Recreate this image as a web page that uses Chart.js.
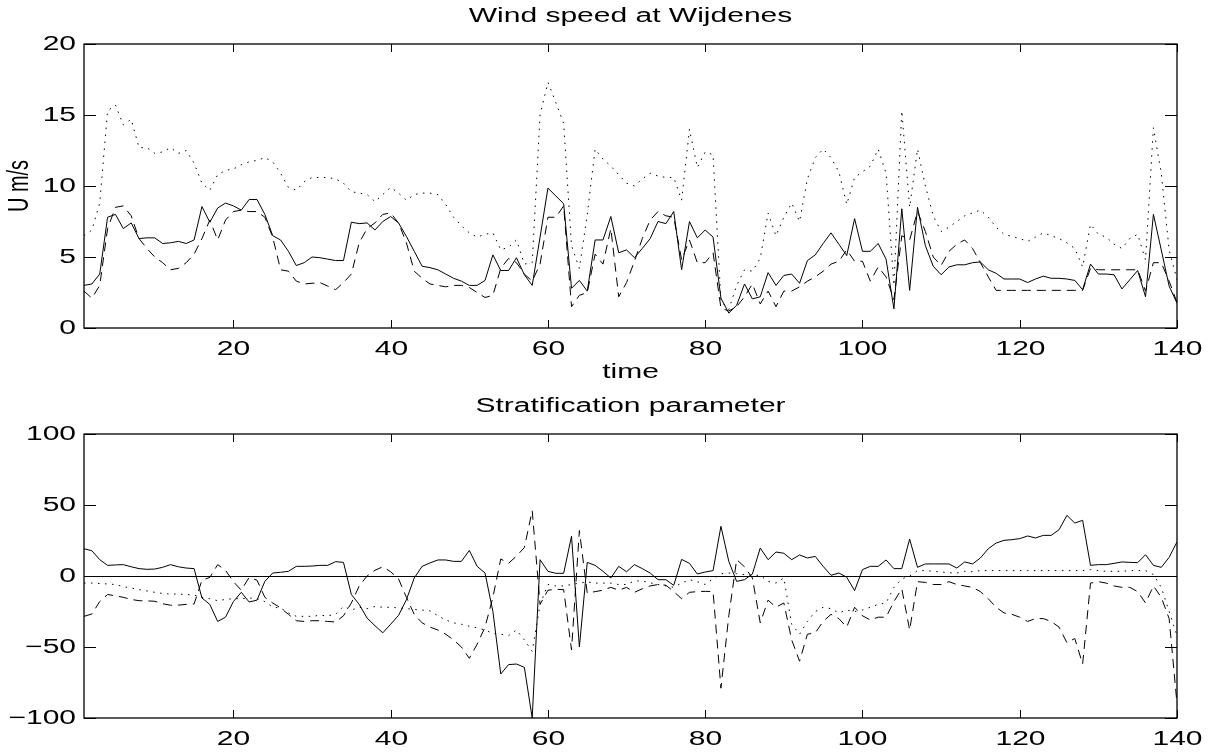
<!DOCTYPE html>
<html>
<head>
<meta charset="utf-8">
<script src="https://cdn.jsdelivr.net/npm/chart.js@4.4.1/dist/chart.umd.min.js"></script>
<style>
  html, body { margin: 0; padding: 0; background: #fff; }
  .panel { position: absolute; left: 0; width: 1212px; }
  #top { top: 0; height: 392px; }
  #bottom { top: 392px; height: 362px; }
</style>
</head>
<body>
<div class="panel" id="top"><canvas id="windChart" width="1212" height="392"></canvas></div>
<div class="panel" id="bottom"><canvas id="stratChart" width="1212" height="362"></canvas></div>
<script>
// --- DATA ---
const time = Array.from({ length: 140 }, (_, i) => i + 1);

const windSolid = [
  3.0, 3.1, 3.8, 7.8, 8.0, 7.0, 7.4, 6.3, 6.35, 6.35,
  5.95, 6.0, 6.1, 5.95, 6.2, 8.55, 7.45, 8.45, 8.8, 8.6,
  8.3, 9.05, 9.05, 8.0, 6.5, 6.2, 5.4, 4.4, 4.6, 5.0,
  4.95, 4.85, 4.75, 4.75, 7.45, 7.35, 7.4, 6.9, 7.5, 7.85,
  7.4, 6.45, 5.4, 4.35, 4.25, 4.1, 3.8, 3.5, 3.3, 3.0,
  3.0, 3.35, 5.15, 4.05, 4.05, 4.95, 3.75, 3.0, 6.4, 9.85,
  9.3, 8.75, 2.8, 3.35, 2.6, 6.2, 6.2, 7.85, 5.3, 5.5,
  4.95, 5.6, 6.3, 7.5, 7.35, 8.2, 4.1, 7.5, 6.35, 6.9,
  6.4, 2.1, 1.05, 1.6, 3.1, 2.05, 2.2, 3.9, 3.0, 3.7,
  3.8, 3.15, 4.75, 5.15, 5.95, 6.7, 5.9, 5.1, 7.7, 5.4,
  5.4, 5.95, 4.85, 1.35, 8.4, 2.65, 8.5, 5.8, 4.35, 3.75,
  4.3, 4.45, 4.45, 4.6, 4.65, 4.1, 3.85, 3.45, 3.45, 3.45,
  3.2, 3.45, 3.65, 3.5, 3.5, 3.45, 3.35, 2.7, 4.5, 3.8,
  3.8, 3.75, 2.75, 3.4, 4.05, 2.2, 8.0, 5.5, 2.95, 1.75
];
const windDashed = [
  2.6, 2.1, 3.0, 7.0, 8.5, 8.6, 7.9, 6.3, 5.6, 5.0,
  4.6, 4.1, 4.2, 4.6, 5.2, 6.3, 7.6, 6.2, 7.6, 8.2,
  8.3, 8.2, 8.2, 7.8, 6.4, 4.1, 4.0, 3.3, 3.1, 3.15,
  3.2, 2.95, 2.7, 3.2, 3.8, 6.0, 7.0, 7.4, 8.0, 8.1,
  7.4, 6.0, 4.0, 3.5, 3.1, 3.0, 2.9, 3.0, 3.0, 2.85,
  2.5, 2.15, 2.3, 4.2, 4.9, 4.6, 3.8, 3.3, 4.5, 7.8,
  7.8, 8.6, 1.5, 2.3, 2.5, 5.2, 4.5, 7.0, 2.2, 3.2,
  4.7, 6.3, 7.6, 8.2, 7.9, 7.8, 4.8, 6.2, 4.6, 4.6,
  5.3, 1.4, 1.2, 1.5, 2.2, 3.1, 1.7, 2.6, 1.5, 2.6,
  2.6, 2.9, 3.3, 3.6, 4.0, 4.5, 4.7, 5.5, 4.7, 4.7,
  3.3, 4.3, 3.6, 2.0, 6.5, 6.2, 8.2, 6.8, 5.0, 4.4,
  5.4, 5.9, 6.2, 5.6, 4.6, 3.6, 2.65, 2.65, 2.65, 2.65,
  2.65, 2.65, 2.65, 2.65, 2.65, 2.65, 2.65, 2.65, 4.2, 4.1,
  4.1, 4.1, 4.1, 4.1, 4.1, 2.6, 4.6, 4.6, 3.3, 1.8
];
const windDotted = [
  6.5, 6.9, 8.8, 15.3, 15.7, 14.3, 14.7, 12.7, 12.7, 12.3,
  12.4, 12.7, 12.3, 12.5, 11.6, 10.2, 9.7, 10.8, 11.1, 11.2,
  11.5, 11.7, 11.8, 12.0, 11.7, 10.9, 9.9, 9.7, 10.3, 10.6,
  10.6, 10.6, 10.5, 10.2, 9.6, 9.5, 9.4, 8.9, 9.4, 9.9,
  9.5, 9.0, 9.4, 9.5, 9.5, 9.4, 8.7, 7.8, 7.2, 6.7,
  6.4, 6.6, 6.7, 5.5, 5.7, 6.2, 4.5, 4.6, 15.0, 17.3,
  15.9, 14.4, 5.8, 4.2, 8.0, 12.6, 11.9, 11.4, 10.8, 10.2,
  10.0, 10.5, 10.9, 10.7, 10.6, 10.6, 9.0, 14.0, 11.3, 12.4,
  12.2, 1.9, 1.3, 3.0, 4.1, 4.0, 4.9, 8.1, 6.5, 7.8,
  8.8, 7.5, 10.5, 12.0, 12.6, 12.0, 11.0, 8.7, 10.6, 11.0,
  11.4, 12.6, 10.9, 3.0, 15.3, 8.5, 12.6, 10.0, 7.9, 6.8,
  7.1, 7.5, 7.9, 8.1, 8.3, 7.8, 7.1, 6.6, 6.45, 6.3,
  6.1, 6.4, 6.7, 6.5, 6.3, 6.0, 5.6, 4.3, 7.3, 6.6,
  6.4, 5.9, 5.6, 6.3, 6.6, 4.8, 14.1, 10.9, 5.5, 3.4
];

const stratSolid = [
  19.2, 17.8, 11.5, 7.5, 7.8, 8.0, 6.5, 5.2, 4.7, 4.9,
  6.1, 8.0, 6.5, 5.6, 5.2, -15.5, -20, -32, -29, -18,
  -11.5, -18.3, -17, -3.8, 2.1, 2.6, 3.3, 6.8, 6.8, 7.0,
  7.5, 7.5, 10.1, 9.6, -13, -20, -29.6, -35, -40, -34,
  -27.7, -16.7, -1.4, 6.8, 9.2, 11.3, 11.3, 10.3, 10.3, 18,
  6.8, 2.1, -25, -69, -62.4, -62, -64.3, -100, 11.5, 3.3,
  1.9, 1.9, 28, -50, 9.6, 7.5, 3.3, -1.4, 6.8, 3.0,
  8.0, 5.2, 2.1, -2.6, -2.6, -6.6, 11.7, 8.9, 1.4, 2.8,
  3.8, 35, 10.3, -3.8, -2.6, 1.4, 19.7, 11.5, 16.9, 16.0,
  11.5, 14.8, 12.7, 13.8, 6.8, 0.5, 2.1, -0.9, -10.3, 4.5,
  6.8, 6.8, 11.3, 5.2, 5.2, 26, 6.1, 8.5, 8.5, 8.5,
  8.5, 5.6, 9.9, 8.5, 12.7, 19.2, 23.2, 25.1, 25.6, 26.3,
  28.2, 26.8, 28.6, 28.6, 32.6, 42.7, 37.3, 39.2, 7.5, 8.0,
  8.0, 8.9, 9.9, 9.6, 9.4, 15.0, 7.5, 6.1, 13.1, 24
];
const stratDashed = [
  -28.4, -26.8, -18, -13, -14, -15, -16.5, -17.4, -17.5, -17.8,
  -19.5, -20.6, -20.5, -20, -19.7, -3, -1, 8, 4, -4,
  -10, -1, -3, -15, -19, -22.5, -27, -31.5, -32, -31.5,
  -31.5, -32, -32.4, -28, -19, -7, 0, 4, 6.5, 3,
  -2, -15, -27, -33, -36, -38, -41, -45, -50, -58,
  -48, -36, -15, 12, 9, 14, 20, 46, -20, -10,
  -9.4, -9.6, -52, 32, -12, -11, -10, -8, -10, -8,
  -11.5, -9, -7, -6, -6.5, -11, -16, -11.5, -11, -10.8,
  -11, -79, -28, 11.5, 6.5, -1.4, -33, -17, -22, -19,
  -45, -60, -41, -40, -32, -27, -30, -36, -22, -28,
  -31, -29, -29, -18, -9, -38, -4, -4.5, -6, -6,
  -4, -6, -7, -8, -11, -16, -22, -26, -27, -29,
  -32, -30, -30, -32, -36, -47, -44, -62, -5, -4,
  -5, -7, -8, -8, -11, -19, -7, -15, -30, -90
];
const stratDotted = [
  -5, -5, -5.3, -5.6, -6, -7.5, -8.5, -9.6, -10.5, -11.5,
  -12.3, -12.7, -12.7, -13, -13.5, -15, -16, -17.4, -16.5, -16,
  -16, -15.5, -16, -18, -22, -22.5, -26, -28.4, -28.4, -28.4,
  -27.7, -28, -27, -21.4, -24, -22, -23, -21.5, -22, -22,
  -22.5, -23, -23.5, -24, -24.5, -28, -31, -33, -34, -35.4,
  -36.5, -38, -40.5, -41, -42, -38, -45, -53, -20, -6,
  -7, -7, -6, -5, -4.2, -5, -5, -5, -6, -6,
  -3.5, -3.5, -4.8, -6, -7, -8, -5, -2.6, -4, -6,
  -2, 1.6, 2.1, 1.6, 1, 0.5, 0.5, -3.8, -5, -1.4,
  -34, -41, -32, -25, -22, -23, -26, -24, -25, -24,
  -22, -20, -19, -8, -2, 0, 3.8, 3.8, 3.3, 2.8,
  2.3, 2.1, 3.3, 3, 3.8, 3.8, 3.8, 3.8, 3.8, 3.8,
  3.8, 3.8, 3.8, 3.8, 3.8, 3.8, 3.8, 3.8, 4.5, 3.8,
  3.3, 3.3, 3.3, 3.8, 3.8, 3.8, 1, -8, -25, -42
];

const timeTicks = [20, 40, 60, 80, 100, 120, 140];
const windTicks = [0, 5, 10, 15, 20];
const stratTicks = [-100, -50, 0, 50, 100];

// --- DRAWING HELPERS ---
// the reference figure is stretched sideways, so its text is too
const TEXT_STRETCH = 1.5;
const FONT = '20px "Liberation Sans", Arial, Helvetica, sans-serif';

function stretchedText(ctx, text, x, y, align, vertical) {
  ctx.save();
  ctx.translate(x, y);
  ctx.scale(TEXT_STRETCH, 1);
  if (vertical) ctx.rotate(-Math.PI / 2);
  ctx.font = FONT;
  ctx.fillStyle = '#000';
  ctx.textAlign = align;
  ctx.textBaseline = 'middle';
  ctx.fillText(text, 0, 0);
  ctx.restore();
}

const tickText = v => (v < 0 ? '\u2212' + Math.abs(v) : String(v));

// matlab style box: inward ticks on all four sides, labels outside
const matlabAxes = {
  id: 'matlabAxes',
  afterDraw(chart, args, opts) {
    const { ctx, chartArea: a, scales: { x, y } } = chart;
    ctx.save();
    ctx.strokeStyle = '#000';
    ctx.lineWidth = 1;

    if (opts.zeroLine) {
      const py = Math.round(y.getPixelForValue(0)) + 0.5;
      ctx.beginPath();
      ctx.moveTo(a.left, py);
      ctx.lineTo(a.right, py);
      ctx.stroke();
    }

    opts.xTicks.forEach(t => {
      const px = Math.round(x.getPixelForValue(t)) + 0.5;
      ctx.beginPath();
      ctx.moveTo(px, a.bottom); ctx.lineTo(px, a.bottom - 8);
      ctx.moveTo(px, a.top); ctx.lineTo(px, a.top + 8);
      ctx.stroke();
      stretchedText(ctx, tickText(t), px, a.bottom + 21, 'center');
    });

    opts.yTicks.forEach(t => {
      const py = Math.round(y.getPixelForValue(t)) + 0.5;
      ctx.beginPath();
      ctx.moveTo(a.left, py); ctx.lineTo(a.left + 12, py);
      ctx.moveTo(a.right, py); ctx.lineTo(a.right - 12, py);
      ctx.stroke();
      stretchedText(ctx, tickText(t), a.left - 8, py, 'right');
    });

    ctx.lineWidth = 1.3;
    ctx.strokeRect(a.left, a.top, a.right - a.left, a.bottom - a.top);

    const cx = (a.left + a.right) / 2;
    if (opts.title) stretchedText(ctx, opts.title, cx, a.top - 28, 'center');
    if (opts.xLabel) stretchedText(ctx, opts.xLabel, cx, a.bottom + 44, 'center');
    if (opts.yLabel) stretchedText(ctx, opts.yLabel, a.left - 64, (a.top + a.bottom) / 2, 'center', true);
    ctx.restore();
  }
};

function series(values, dash) {
  return {
    data: values.map((v, i) => ({ x: time[i], y: v })),
    borderColor: '#000',
    borderWidth: 1,
    borderDash: dash,
    pointRadius: 0,
    tension: 0,
    fill: false
  };
}

function makeChart(id, datasets, yMin, yMax, padding, axes) {
  return new Chart(document.getElementById(id), {
    type: 'line',
    data: { datasets },
    options: {
      responsive: false,
      animation: false,
      events: [],
      layout: { padding },
      plugins: { legend: { display: false }, tooltip: { enabled: false }, matlabAxes: axes },
      scales: {
        x: { type: 'linear', min: 1, max: 140, display: false },
        y: { min: yMin, max: yMax, display: false }
      }
    },
    plugins: [matlabAxes]
  });
}

makeChart('windChart',
  [series(windSolid, []), series(windDashed, [9, 6]), series(windDotted, [1.5, 5.5])],
  0, 20,
  { left: 84, right: 35, top: 44, bottom: 64 },
  { title: 'Wind speed at Wijdenes', xLabel: 'time', yLabel: 'U m/s', xTicks: timeTicks, yTicks: windTicks });

makeChart('stratChart',
  [series(stratSolid, []), series(stratDashed, [9, 6]), series(stratDotted, [1.5, 5.5])],
  -100, 100,
  { left: 84, right: 35, top: 42, bottom: 36 },
  { title: 'Stratification parameter', xTicks: timeTicks, yTicks: stratTicks, zeroLine: true });
</script>
</body>
</html>
